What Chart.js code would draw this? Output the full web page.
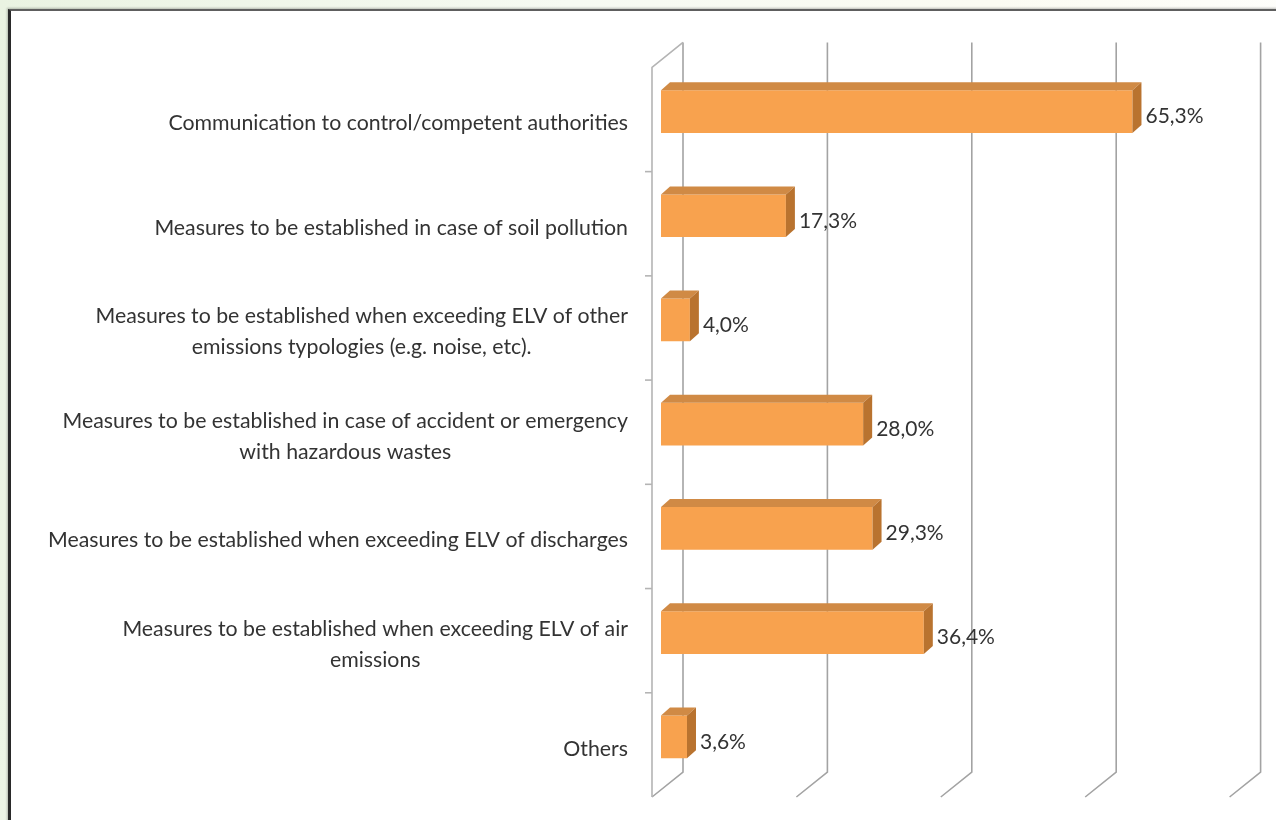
<!DOCTYPE html>
<html>
<head>
<meta charset="utf-8">
<script src="https://cdn.jsdelivr.net/npm/chart.js@4"></script>
<style>
  html, body { margin: 0; padding: 0; }
  body {
    width: 1276px; height: 820px; overflow: hidden; position: relative;
    background: linear-gradient(100deg, #eaf3e2 0%, #f6faf2 40%, #fbfbf2 70%, #ffffff 100%);
  }
  #frame {
    position: absolute; left: 8px; top: 9px; width: 1290px; height: 830px;
    background: #fff; border-top: 2px solid #5e5e5e; border-left: 3px solid #2a2a2a;
    box-shadow: -1px -1px 2px rgba(0,0,0,0.25);
  }
  #chart { position: absolute; left: 0; top: 0; }
</style>
</head>
<body>
<div id="frame"></div>
<canvas id="chart" width="1276" height="820"></canvas>
<script>
// Categories (multi-line where the original wraps)
const categories = [
  ['Communication to control/competent authorities'],
  ['Measures to be established in case of soil pollution'],
  ['Measures to be established when exceeding ELV of other', 'emissions typologies (e.g. noise, etc).'],
  ['Measures to be established in case of accident or emergency', 'with hazardous wastes'],
  ['Measures to be established when exceeding ELV of discharges'],
  ['Measures to be established when exceeding ELV of air', 'emissions'],
  ['Others']
];
// Share of answers, percent
const shares = [65.3, 17.3, 4.0, 28.0, 29.3, 36.4, 3.6];
// Gridline values (no tick labels shown)
const axisTicks = [0, 20, 40, 60, 80];

const FONT = 'Lato, "Open Sans", sans-serif';
const TEXT = '#333333';

// fake 3D: back plane, front plane, and bar depth
const back = { dx: 22, dy: -17 };
const front = { dx: -9, dy: 8 };
const barDepth = { dx: 9, dy: -8 };

const pct = v => v.toFixed(1).replace('.', ',') + '%';

const fake3d = {
  id: 'fake3d',
  beforeDatasetsDraw(chart) {
    const { ctx, chartArea: a, scales: { x } } = chart;
    ctx.save();
    ctx.strokeStyle = '#a3a3a3';
    ctx.lineWidth = 1.6;
    axisTicks.forEach(v => {
      const px = x.getPixelForValue(v);
      ctx.beginPath();
      ctx.moveTo(px + back.dx, a.top + back.dy);
      ctx.lineTo(px + back.dx, a.bottom + back.dy);
      ctx.lineTo(px + front.dx, a.bottom + front.dy);
      ctx.stroke();
    });
    // left wall
    const x0 = x.getPixelForValue(0);
    ctx.strokeStyle = '#b4b4b4';
    ctx.beginPath();
    ctx.moveTo(x0 + back.dx, a.top + back.dy);
    ctx.lineTo(x0 + front.dx, a.top + front.dy);
    ctx.lineTo(x0 + front.dx, a.bottom + front.dy);
    ctx.stroke();
    // small ticks between categories
    const band = (a.bottom - a.top) / categories.length;
    for (let k = 1; k < categories.length; k++) {
      const yb = a.top + front.dy + k * band;
      ctx.beginPath();
      ctx.moveTo(x0 + front.dx - 7, yb);
      ctx.lineTo(x0 + front.dx, yb);
      ctx.stroke();
    }
    ctx.restore();
  },
  afterDatasetsDraw(chart) {
    const { ctx, scales: { x } } = chart;
    const x0 = x.getPixelForValue(0);
    const meta = chart.getDatasetMeta(0);
    ctx.save();
    meta.data.forEach((bar, i) => {
      const p = bar.getProps(['x', 'y', 'base', 'height'], true);
      const top = p.y - p.height / 2, bottom = p.y + p.height / 2;
      const xs = p.base, xe = p.x;
      // top face
      ctx.fillStyle = '#d08a45';
      ctx.beginPath();
      ctx.moveTo(xs, top);
      ctx.lineTo(xs + barDepth.dx, top + barDepth.dy);
      ctx.lineTo(xe + barDepth.dx, top + barDepth.dy);
      ctx.lineTo(xe, top);
      ctx.closePath();
      ctx.fill();
      // side face
      ctx.fillStyle = '#b9732f';
      ctx.beginPath();
      ctx.moveTo(xe, top);
      ctx.lineTo(xe + barDepth.dx, top + barDepth.dy);
      ctx.lineTo(xe + barDepth.dx, bottom + barDepth.dy);
      ctx.lineTo(xe, bottom);
      ctx.closePath();
      ctx.fill();

      // value label
      ctx.fillStyle = TEXT;
      ctx.font = '21px ' + FONT;
      ctx.textAlign = 'left';
      ctx.textBaseline = 'middle';
      ctx.fillText(pct(shares[i]), xe + barDepth.dx + 4, p.y + 5);

      // category label: block right-aligned, lines centred inside it
      const lines = categories[i];
      ctx.font = '21.3px ' + FONT;
      const widths = lines.map(l => ctx.measureText(l).width);
      const blockW = Math.max(...widths);
      const right = x0 - 33;
      const lh = 31;
      const cy = p.y + 12;
      ctx.textAlign = 'center';
      lines.forEach((l, j) => {
        ctx.fillText(l, right - blockW / 2, cy + (j - (lines.length - 1) / 2) * lh);
      });
    });
    ctx.restore();
  }
};

new Chart(document.getElementById('chart'), {
  type: 'bar',
  data: {
    labels: categories,
    datasets: [{
      data: shares,
      backgroundColor: '#f8a24e',
      borderWidth: 0,
      barPercentage: 1,
      categoryPercentage: 0.41
    }]
  },
  options: {
    indexAxis: 'y',
    responsive: false,
    animation: false,
    layout: { padding: { left: 661, right: 37.4, top: 59.4, bottom: 31 } },
    scales: {
      x: { display: false, min: 0, max: 80 },
      y: { display: false }
    },
    plugins: {
      legend: { display: false },
      tooltip: { enabled: false }
    }
  },
  plugins: [fake3d]
});
</script>
</body>
</html>
